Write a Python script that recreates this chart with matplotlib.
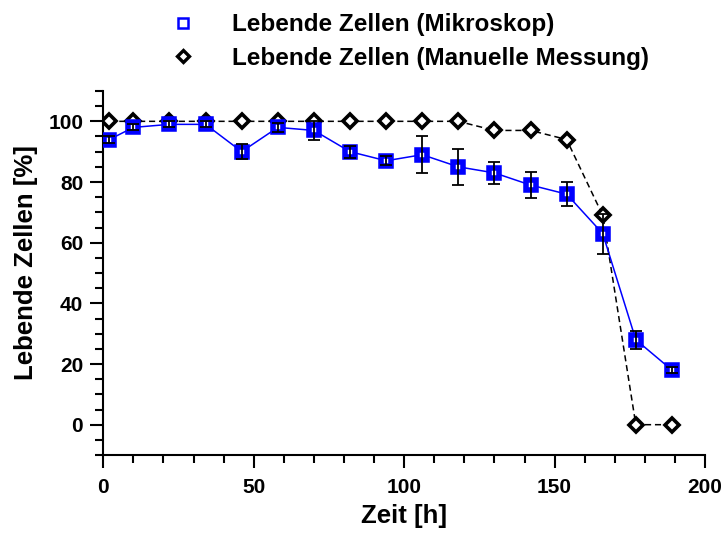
import numpy as np
import matplotlib.pyplot as plt
from matplotlib.lines import Line2D
from matplotlib.ticker import MultipleLocator

plt.rcParams['font.family'] = ['Liberation Sans', 'DejaVu Sans']
plt.rcParams['font.weight'] = 'bold'

# Zeitpunkte [h]
zeit = [2, 10, 22, 34, 46, 58, 70, 82, 94, 106, 118, 130, 142, 154, 166, 177, 189]

# Lebende Zellen (Mikroskop) mit Fehlerbalken
mikroskop = [94, 98, 99, 99, 90, 98, 97, 90, 87, 89, 85, 83, 79, 76, 63, 28, 18]
mikroskop_err = [1, 1, 1, 1, 2.5, 1.5, 3, 2, 1.5, 6, 6, 3.5, 4.4, 4, 6.6, 3, 1]

# Lebende Zellen (Manuelle Messung)
manuell = [100, 100, 100, 100, 100, 100, 100, 100, 100, 100, 100, 97, 97, 94, 69, 0, 0]

labels = ['Lebende Zellen (Mikroskop)', 'Lebende Zellen (Manuelle Messung)']

fig = plt.figure(figsize=(7.26, 5.34), dpi=100)
ax = fig.add_axes([0.1423, 0.1479, 0.9711 - 0.1423, 0.8296 - 0.1479])

ax.plot(zeit, manuell, color='black', lw=1.1, ls=(0, (4, 2.5)),
        marker='D', ms=7, mfc='white', mec='black', mew=2.6, zorder=3)
ax.plot(zeit, mikroskop, color='blue', lw=1.1,
        marker='s', ms=7, mfc='white', mec='blue', mew=4.0, zorder=4)
ax.errorbar(zeit, mikroskop, yerr=mikroskop_err, fmt='none', ecolor='black',
            elinewidth=1.3, capsize=4, capthick=1.3, zorder=5)

ax.set_xlim(0, 200)
ax.set_ylim(-10, 110)
ax.xaxis.set_major_locator(MultipleLocator(50))
ax.xaxis.set_minor_locator(MultipleLocator(10))
ax.yaxis.set_major_locator(MultipleLocator(20))
ax.yaxis.set_minor_locator(MultipleLocator(5))

for s in ['top', 'right']:
    ax.spines[s].set_visible(False)
for s in ['left', 'bottom']:
    ax.spines[s].set_linewidth(1.5)

ax.tick_params(which='major', direction='out', length=9.5, width=1.5, labelsize=15)
ax.tick_params(which='minor', direction='out', length=5.5, width=1.5)
ax.tick_params(axis='x', which='major', pad=7)
ax.tick_params(axis='y', which='major', pad=5)

ax.set_xlabel('Zeit [h]', fontsize=18.5, fontweight='bold', labelpad=5)
ax.set_ylabel('Lebende Zellen [%]', fontsize=18.5, fontweight='bold', labelpad=7)
ax.yaxis.label.set_y(0.53)

# Legende oben, ausserhalb der Achsen
handles = [
    Line2D([], [], ls='none', marker='s', ms=7, mfc='white', mec='blue', mew=1.8),
    Line2D([], [], ls='none', marker='D', ms=6.3, mfc='white', mec='black', mew=2.4),
]
fig.legend(handles, labels, loc='upper left', bbox_to_anchor=(0.2358, 0.975),
           frameon=False, fontsize=17.5, labelspacing=0.42, borderaxespad=0,
           borderpad=0, handlelength=1.0, handletextpad=1.5)

fig.savefig('out.png', dpi=100)
